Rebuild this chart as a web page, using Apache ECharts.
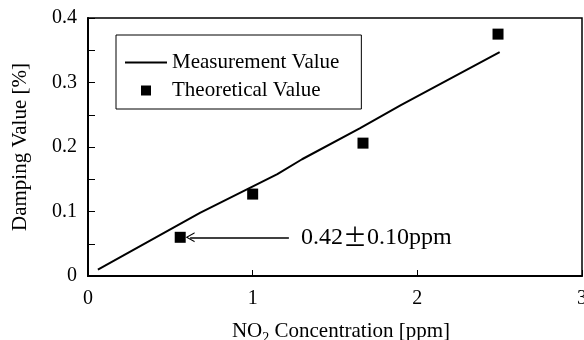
<!DOCTYPE html>
<html>
<head>
<meta charset="utf-8">
<script src="https://cdn.jsdelivr.net/npm/echarts@6/dist/echarts.min.js"></script>
<style>
  html, body { margin: 0; padding: 0; background: #fff; }
  #main { width: 584px; height: 340px; }
</style>
</head>
<body>
<div id="main"></div>
<script>
// measurement curve (NO2 ppm, damping %)
const measuredX = [0.06, 0.68, 1.15, 1.30, 1.65, 1.90, 2.50]
const measuredY = [0.010, 0.098, 0.158, 0.181, 0.229, 0.265, 0.347]
// theoretical points
const theoryX = [0.56, 1.00, 1.67, 2.49]
const theoryY = [0.060, 0.127, 0.206, 0.375]
// annotation arrow
const noteFrom = [1.22, 0.060]
const noteTo = [0.62, 0.060]

const font = '"Liberation Serif", "Times New Roman", serif'

const chart = echarts.init(document.getElementById('main'))
chart.setOption({
  animation: false,
  backgroundColor: '#fff',
  textStyle: { fontFamily: font, color: '#000' },
  grid: {
    left: 88, right: 2, top: 18, bottom: 64,
    outerBoundsMode: 'none',
    show: true, borderColor: '#000', borderWidth: 1.5
  },
  legend: {
    left: 116, top: 35,
    orient: 'vertical',
    padding: [17, 22, 8, 8],
    itemGap: 7,
    itemWidth: 42, itemHeight: 10,
    symbolKeepAspect: true,
    borderColor: '#000', borderWidth: 1,
    backgroundColor: '#fff',
    textStyle: { fontFamily: font, fontSize: 21, color: '#000' },
    data: [
      { name: 'Measurement Value', itemStyle: { opacity: 0 } },
      { name: 'Theoretical Value', icon: 'path://M0,0L10,0L10,10L0,10Z' }
    ]
  },
  xAxis: {
    type: 'value', min: 0, max: 3, interval: 1,
    name: '{a|NO}{s|2}{a| Concentration [ppm]}',
    nameLocation: 'middle', nameGap: 41,
    nameTextStyle: {
      padding: [0, 0, 0, 12],
      rich: {
        a: { fontFamily: font, fontSize: 21, color: '#000' },
        s: { fontFamily: font, fontSize: 14, color: '#000', padding: [14, 0, 0, 0] }
      }
    },
    axisLine: { lineStyle: { color: '#000', width: 2 } },
    axisTick: { inside: true, length: 6, lineStyle: { color: '#000' } },
    axisLabel: { fontFamily: font, fontSize: 20, color: '#000', margin: 13 },
    splitLine: { show: false }
  },
  yAxis: {
    type: 'value', min: 0, max: 0.4, interval: 0.05,
    name: 'Damping Value [%]',
    nameLocation: 'middle', nameGap: 57,
    nameTextStyle: { fontFamily: font, fontSize: 21, color: '#000' },
    axisLine: { lineStyle: { color: '#000', width: 2 } },
    axisTick: { inside: true, length: 7, lineStyle: { color: '#000' } },
    axisLabel: {
      fontFamily: font, fontSize: 20, color: '#000', margin: 11,
      formatter: v => {
        const k = Math.round(v * 100)
        if (k % 10 !== 0) return ''
        return k === 0 ? '0' : (k / 100).toFixed(1)
      }
    },
    splitLine: { show: false }
  },
  series: [
    {
      name: 'Measurement Value',
      type: 'line',
      data: measuredX.map((x, i) => [x, measuredY[i]]),
      symbol: 'none',
      lineStyle: { color: '#000', width: 2 },
      itemStyle: { color: '#000' }
    },
    {
      name: 'Theoretical Value',
      type: 'scatter',
      data: theoryX.map((x, i) => [x, theoryY[i]]),
      symbol: 'rect',
      symbolSize: 11,
      itemStyle: { color: '#000', opacity: 1 },
      markLine: {
        silent: true,
        symbol: ['path://M5,0 L10,9 L8.8,9 L5,2.2 L1.2,9 L0,9 Z', 'none'],
        symbolSize: [10, 9],
        lineStyle: { color: '#000', width: 1.5, type: 'solid' },
        label: {
          show: true, position: 'end', distance: 12,
          formatter: '{a|0.42}{b|±}{a|0.10ppm}',
          rich: {
            a: { fontFamily: font, fontSize: 24, color: '#000' },
            b: { fontFamily: '"Noto Sans CJK JP", sans-serif', fontSize: 24, color: '#000' }
          }
        },
        data: [[{ coord: noteTo }, { coord: noteFrom }]]
      }
    }
  ]
})
</script>
</body>
</html>
